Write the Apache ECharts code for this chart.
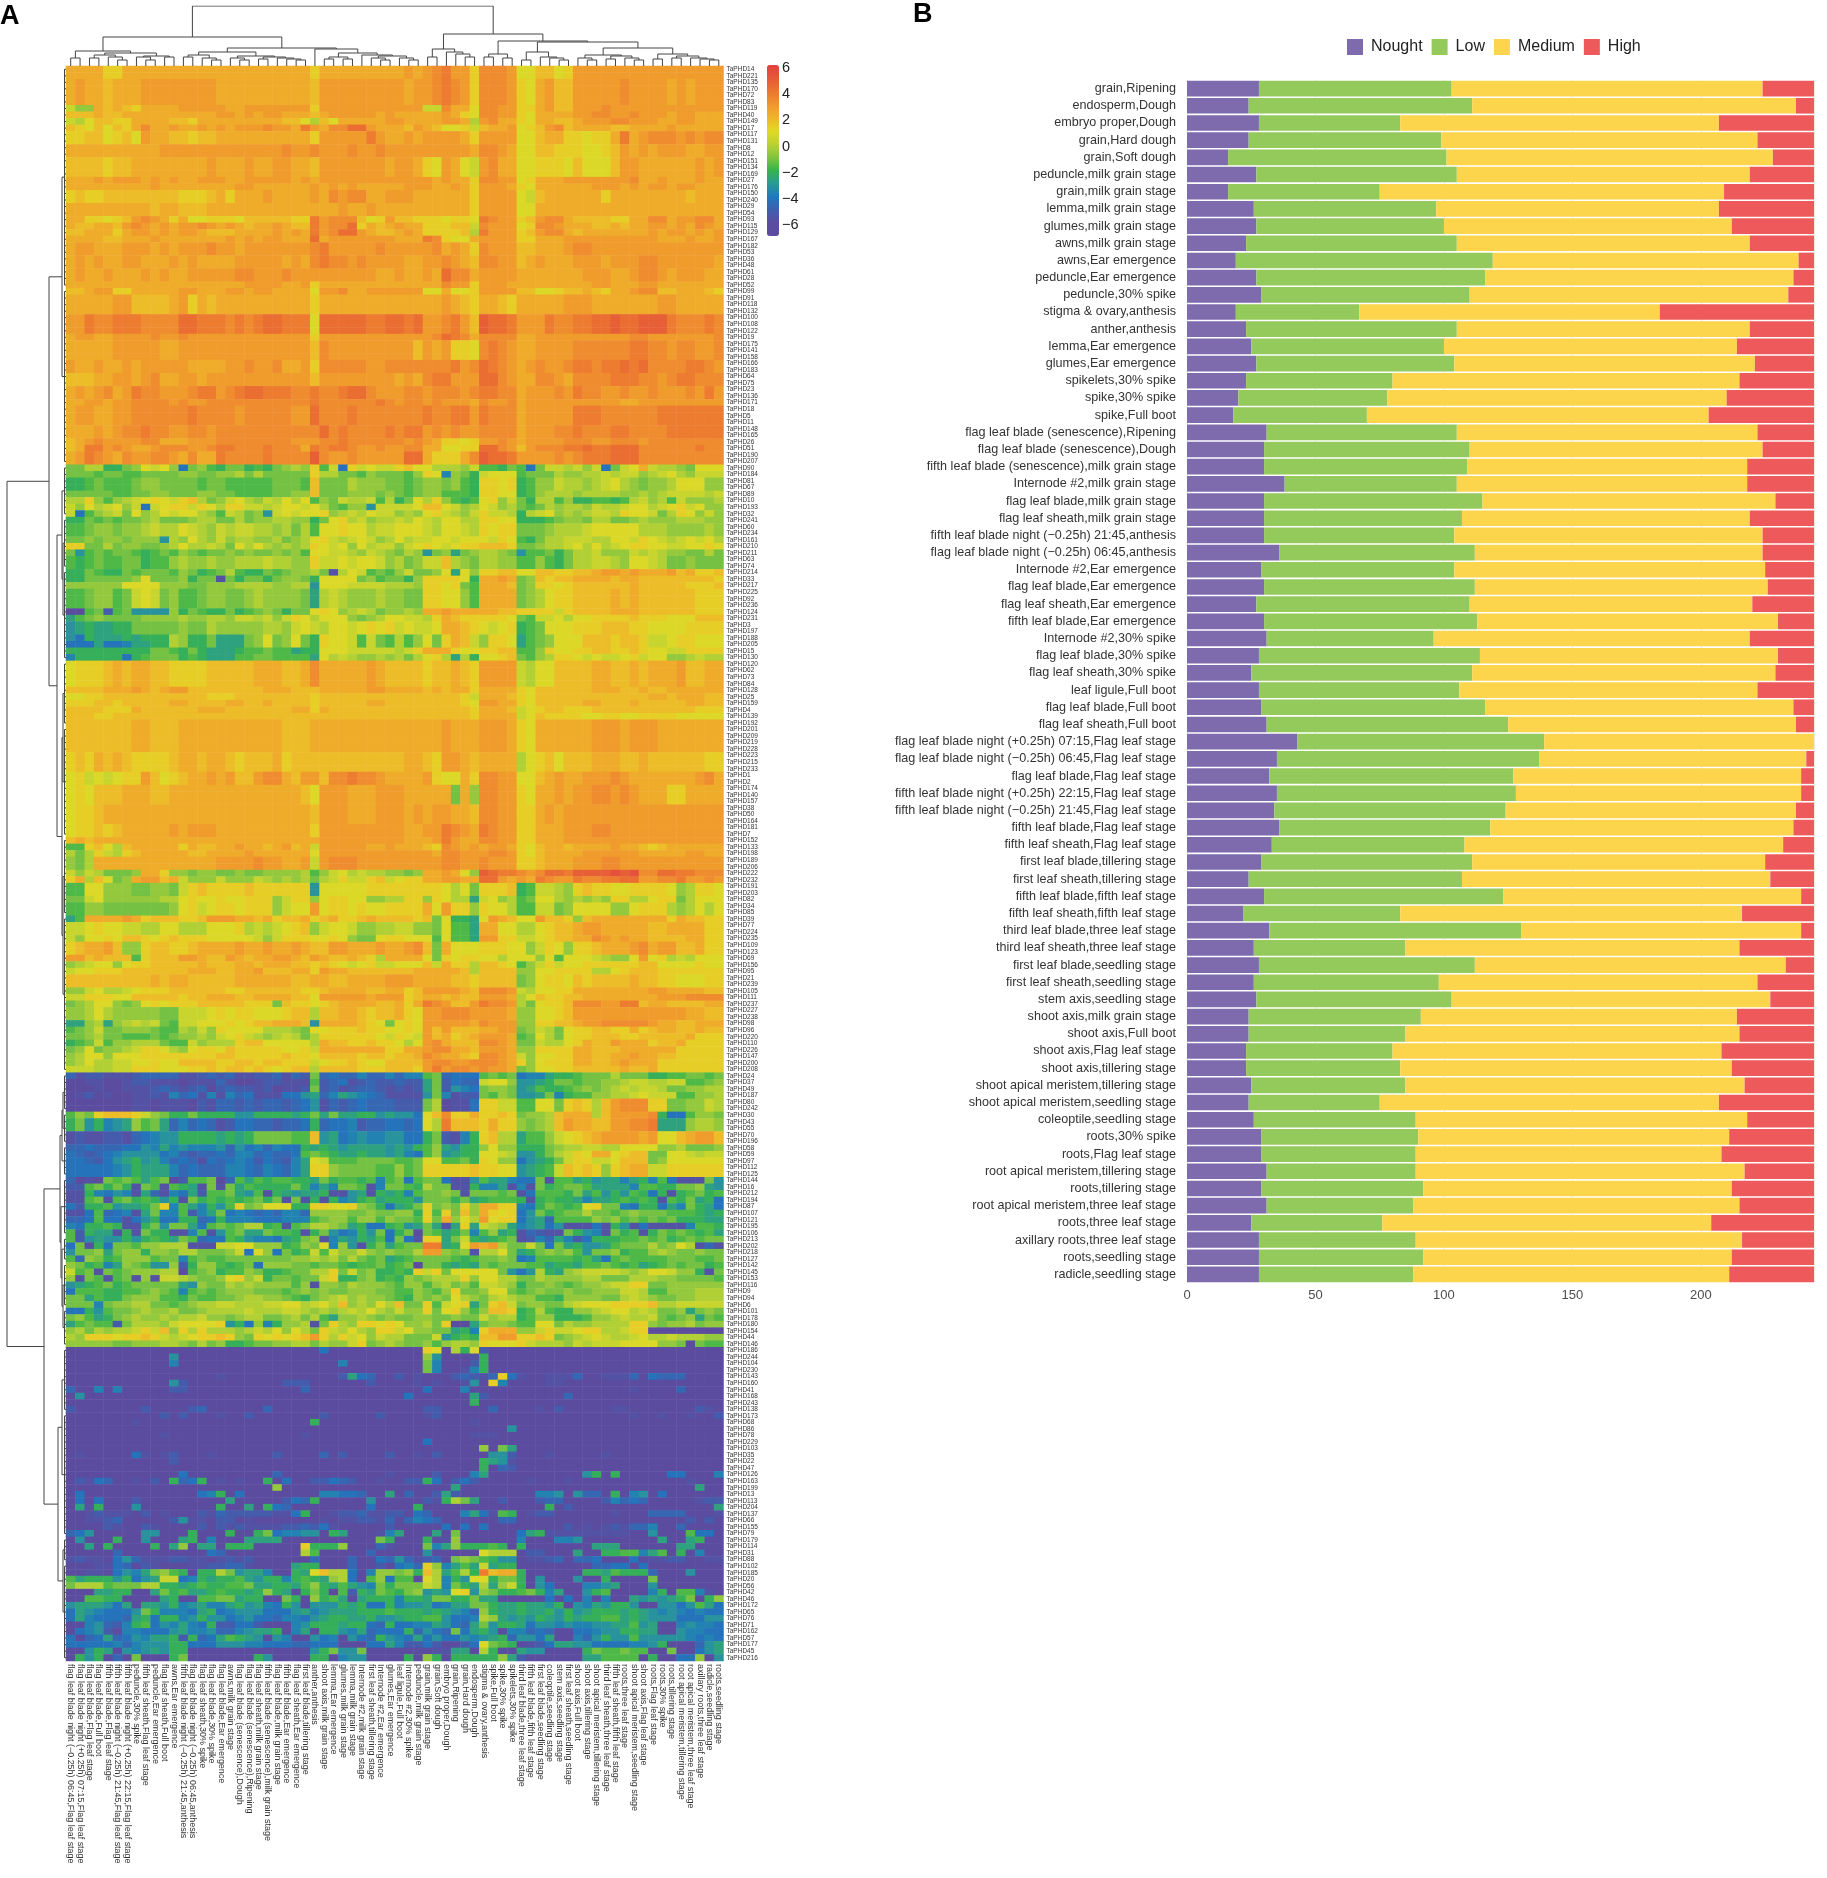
<!DOCTYPE html>
<html>
<head>
<meta charset="utf-8">
<title>TaPHD expression</title>
<script src="https://cdn.jsdelivr.net/npm/echarts@6/dist/echarts.min.js"></script>
<style>
html,body{margin:0;padding:0;background:#fff}
#main{width:1827px;height:1878px}
</style>
</head>
<body>
<div id="main"></div>
<script>
// panel B, top to bottom
const barCategories = ['grain,Ripening','endosperm,Dough','embryo proper,Dough','grain,Hard dough','grain,Soft dough','peduncle,milk grain stage','grain,milk grain stage','lemma,milk grain stage','glumes,milk grain stage','awns,milk grain stage','awns,Ear emergence','peduncle,Ear emergence','peduncle,30% spike','stigma & ovary,anthesis','anther,anthesis','lemma,Ear emergence','glumes,Ear emergence','spikelets,30% spike','spike,30% spike','spike,Full boot','flag leaf blade (senescence),Ripening','flag leaf blade (senescence),Dough','fifth leaf blade (senescence),milk grain stage','Internode #2,milk grain stage','flag leaf blade,milk grain stage','flag leaf sheath,milk grain stage','fifth leaf blade night (−0.25h) 21:45,anthesis','flag leaf blade night (−0.25h) 06:45,anthesis','Internode #2,Ear emergence','flag leaf blade,Ear emergence','flag leaf sheath,Ear emergence','fifth leaf blade,Ear emergence','Internode #2,30% spike','flag leaf blade,30% spike','flag leaf sheath,30% spike','leaf ligule,Full boot','flag leaf blade,Full boot','flag leaf sheath,Full boot','flag leaf blade night (+0.25h) 07:15,Flag leaf stage','flag leaf blade night (−0.25h) 06:45,Flag leaf stage','flag leaf blade,Flag leaf stage','fifth leaf blade night (+0.25h) 22:15,Flag leaf stage','fifth leaf blade night (−0.25h) 21:45,Flag leaf stage','fifth leaf blade,Flag leaf stage','fifth leaf sheath,Flag leaf stage','first leaf blade,tillering stage','first leaf sheath,tillering stage','fifth leaf blade,fifth leaf stage','fifth leaf sheath,fifth leaf stage','third leaf blade,three leaf stage','third leaf sheath,three leaf stage','first leaf blade,seedling stage','first leaf sheath,seedling stage','stem axis,seedling stage','shoot axis,milk grain stage','shoot axis,Full boot','shoot axis,Flag leaf stage','shoot axis,tillering stage','shoot apical meristem,tillering stage','shoot apical meristem,seedling stage','coleoptile,seedling stage','roots,30% spike','roots,Flag leaf stage','root apical meristem,tillering stage','roots,tillering stage','root apical meristem,three leaf stage','roots,three leaf stage','axillary roots,three leaf stage','roots,seedling stage','radicle,seedling stage'];
const nought = [28,24,28,24,16,27,16,26,27,23,19,27,29,19,23,25,27,23,20,18,31,30,30,38,30,30,30,36,29,30,27,30,31,28,25,28,29,31,43,35,32,35,34,36,33,29,24,30,22,32,26,28,26,27,24,24,23,23,25,24,26,29,29,31,29,31,25,28,28,28];
const low = [75,87,55,75,85,78,59,71,73,82,100,89,81,48,82,75,77,57,58,52,74,80,79,67,85,77,74,76,75,82,83,83,65,86,86,78,87,94,96,102,95,93,90,82,75,82,83,93,61,98,59,84,72,76,67,61,57,60,60,51,63,61,60,58,63,57,51,61,64,60];
const medium = [121,126,124,123,127,114,134,110,112,114,119,120,124,117,114,114,117,135,132,133,117,114,109,113,114,112,120,112,121,114,110,117,123,116,118,116,120,112,105,104,112,111,113,118,124,114,120,116,133,109,130,121,124,124,123,130,128,129,132,132,129,121,119,128,120,127,128,127,120,123];
const high = [20,7,37,22,16,25,35,37,32,25,6,8,10,60,25,30,23,29,34,41,22,20,26,26,15,25,20,20,19,18,24,14,25,14,15,22,8,7,0,3,5,5,7,8,12,19,17,5,28,5,29,11,22,17,30,29,36,32,27,37,26,33,36,27,32,29,40,28,32,33];
const stackNames = ['Nought','Low','Medium','High'];

// panel A, columns left to right
const heatColumns = ['flag leaf blade night (−0.25h) 06:45,Flag leaf stage','flag leaf blade night (+0.25h) 07:15,Flag leaf stage','flag leaf blade,Flag leaf stage','flag leaf blade,Full boot','fifth leaf blade,Flag leaf stage','fifth leaf blade night (−0.25h) 21:45,Flag leaf stage','fifth leaf blade night (+0.25h) 22:15,Flag leaf stage','peduncle,30% spike','fifth leaf sheath,Flag leaf stage','peduncle,Ear emergence','flag leaf sheath,Full boot','awns,Ear emergence','fifth leaf blade night (−0.25h) 21:45,anthesis','flag leaf blade night (−0.25h) 06:45,anthesis','flag leaf sheath,30% spike','flag leaf blade,30% spike','flag leaf blade,Ear emergence','awns,milk grain stage','flag leaf blade (senescence),Dough','flag leaf blade (senescence),Ripening','flag leaf sheath,milk grain stage','fifth leaf blade (senescence),milk grain stage','flag leaf blade,milk grain stage','fifth leaf blade,Ear emergence','flag leaf sheath,Ear emergence','first leaf blade,tillering stage','anther,anthesis','shoot axis,milk grain stage','lemma,Ear emergence','glumes,milk grain stage','lemma,milk grain stage','Internode #2,milk grain stage','first leaf sheath,tillering stage','Internode #2,Ear emergence','glumes,Ear emergence','leaf ligule,Full boot','Internode #2,30% spike','peduncle,milk grain stage','grain,milk grain stage','grain,Soft dough','embryo proper,Dough','grain,Ripening','grain,Hard dough','endosperm,Dough','stigma & ovary,anthesis','spike,Full boot','spike,30% spike','spikelets,30% spike','third leaf blade,three leaf stage','fifth leaf blade,fifth leaf stage','first leaf blade,seedling stage','coleoptile,seedling stage','stem axis,seedling stage','first leaf sheath,seedling stage','shoot axis,Full boot','shoot axis,tillering stage','shoot apical meristem,tillering stage','third leaf sheath,three leaf stage','fifth leaf sheath,fifth leaf stage','roots,three leaf stage','shoot apical meristem,seedling stage','shoot axis,Flag leaf stage','roots,Flag leaf stage','roots,30% spike','roots,tillering stage','root apical meristem,tillering stage','root apical meristem,three leaf stage','axillary roots,three leaf stage','radicle,seedling stage','roots,seedling stage'];
const heatRowIds = [14,221,135,170,72,83,119,40,149,17,117,131,8,12,151,134,169,27,176,150,240,29,54,93,115,129,167,182,53,36,48,61,28,52,99,91,118,132,100,108,122,19,175,141,158,166,183,64,75,23,136,171,18,5,11,148,165,26,51,190,207,90,184,81,67,89,10,193,32,241,60,234,161,210,211,63,74,214,33,217,225,92,236,124,231,3,197,188,205,15,130,120,62,73,84,128,25,159,4,139,192,201,209,219,228,223,215,233,1,2,174,140,157,38,50,164,181,7,152,133,198,189,206,222,232,191,203,82,34,85,39,77,224,235,109,123,69,156,95,21,239,105,111,237,227,238,98,96,220,110,226,147,200,208,24,37,49,187,80,242,30,43,55,70,196,58,59,97,112,125,144,16,212,194,87,107,121,195,106,213,202,218,127,142,145,153,116,9,94,6,101,178,180,154,44,146,186,244,104,230,143,160,41,168,243,138,173,68,86,78,229,103,35,22,47,126,163,199,13,113,204,137,66,155,79,179,114,31,88,102,185,20,56,42,46,172,65,76,71,162,57,177,45,216];

// one letter per cell, A=-6, M=0, Y=6 in half steps; [rows sharing the reading, 70 cells]
const levelCodes = 'ABCDEFGHIJKLMNOPQRSTUVWXY';
const heatRows = [
[2,'RRRRPPRRRR RRRRRRRRRR RRRRRRPRRR RRRRRRSRST USSPTTTSOO QQOPSSSSSS SSSSSSSSSS'],
[4,'RSRRQRRRSS SSSSSSRRRR RRRRRRQSSS SSSSSSRSST UTSPTTTSPO RSQQSSSSST SSSSRSRSSS'],
[1,'NLLRQRQPRR RRSSSSSRRS SSSSSSPSSS SSSSSSSSNN TRROTTSSPP RSQQSSSTSS SSSSSSSSSS'],
[1,'QQQRQQRRRR RRRRRRSSRS RSSRRRQRSS SSSRSRRRRR SRPOTTSSPO RRRRSSTTSS TSSSRSSRRR'],
[1,'NMOQQPPRRR RQQPRRRRRR RRRQQOMQOR RRRRSSRRRR SSRMSTRRPO RRQQRSSSTT SSSRRSSRRR'],
[1,'QPOQOQPRTR RSRRSRSRSS STSSRUSRTT VVSRRRQSRQ OOPNQRRSOP QSTQRRRRQQ RRRRSRRRRR'],
[2,'PPQQOPQOSR RQQPQQRRRR RRRRRRPSSS SSUSRRSRSS SSRPSSSSOO QRRPPOPPRU RSTTTSTSTT'],
[2,'RRRRRRRRRR SSSSSSSSSS SSSTSSTSSS TSSTSSSSSS SSSRTTSROO QQPPPOOPQS RSRSSSRRSS'],
[3,'QQQQPQQRRR RRRRRSRRRS RRSSRRQSSS SSSSRSSRPO SRONSTRROO PPPOQOOOQS SRRRRRRSRS'],
[1,'RRRSRSSSRS RSRRSSSRRS SSSSRSRSSS SSSSSSSSSR SRRPTTSSOP RRRSSSSSSS TRRSRRRSRR'],
[1,'RRRRRRRRRS RRRRRRRRSS RRRRRRSRSR SRRRRRSSSR RSRPSSSRPO RRRRRRSSSR SRSSRSSRRR'],
[2,'PQPPQQQQQQ QQPPPQRPRR RSRRRRSRTS TTRRSSSRRR RRRPSSSSON QRRRRRRPRR RRRRRRQRRR'],
[2,'RRRRRRRRRQ RRQQQRRRRR RRRRRRRRRS RRSRRRRRRR RRRPSSSSOO RRRRRRRRRR RRRRRRRRRR'],
[1,'RRPPOPQSTS RPROOPPPOQ QQQQPPUSTT TQOPSQQPPP OPPOUTSSPQ STTRQQQQPP RRTTRSSTTR'],
[1,'RQQRRQSTSR SRSSTSRSRQ RRSRQQUSTT VPRQRSRRPP PQQNTSSSOP TTSRRRQQRQ RRSSRSRTSR'],
[1,'QQRRRPRSSR SRSSRQQQRR RRSRSRUSTV VSRQQRSRPP PPQMUSSSPQ STTRQRRRRR RRSRSSRSRS'],
[1,'RRRRQQRRRS RRRRRRRSRS RSSRRRVRSS SSSSSRRRUT POORSSSSPP RRRSSSSSSS SSSRRRSRRS'],
[2,'RSSRRRSSSR SRSSSTSSRS SSSSSSTUSS SSSTSSSSST RSRPTSSSQQ RRRSTTSSSS SSSSSSSSSS'],
[2,'RSRSRRSSRR RSRSRRRRSS SSSRSRTUTT STSSSSRRSS TSRQTTSSQR SRRRSSSRSS STTSSSSSSR'],
[2,'RSRRSRRRSR SRRSSSSSTT SSSTSSSSSS SSSRRSRRSR VTTRSSSSRR RRRRRSSSRR STTSRSSSRR'],
[1,'RRRRRRRRRR RRRRRRRRRS SSSRRSPRRR RRRRRRRRRR TSSPSSSRRR RRRRRRSSRR RSSRRRRRRR'],
[1,'QQRSSPPRRR RRSSRRRSSR SSRRRROSST RRSSSSSSOO ROOPSSSSQQ OOPQQRQPRR STTQQRRRQP'],
[3,'RRRRRSSQQQ QRSPRQRRRR RRRRRRPRRR RRRRRRRRRR SRQPRRQPRR RRRSSSRRRR RRRSSRRRRR'],
[3,'SSUTTUUUTT TTVVUUUTUT UVVUUUOVVV VVUUVVUVSS TUSQWVVUSS SUTTUUVVWV VWWWUTTTUT'],
[1,'RSSRRSSSST SSTSSSSSSS SSSSSSPSSS SSSSSSSSST VUTRTTTTRR SSSSSSSSSS TTSSSSSSST'],
[3,'RRRRRSSSSS RRSSSSSSSS SSSSSSQTSS SSSSSSSQSR SPPOTUTSRR SSSSTTTTTT UUTTSTTSST'],
[2,'SRRSRRSRSS SSSRRRRSST SSTRRSPTTT TTSSTTTTTT TUSTVUTSRS TSSTUUTUUV UVTTTTUUTS'],
[2,'QQQRRSSRST RRSSRSSSSS SSSSSSQSSS SSSSSRSRTU USSSVVTSRR TTSRTTTTUU UTTSTUUTTT'],
[2,'RSRSTRSUTT SSSTUUSTUV VUUUTTUTTU VVTSSSTTST TTSTUUTTRS SSTSUTTSST SSTSSSTSUS'],
[1,'RRSSRSSTTT TSTSSTTTTT TTTTTTUTTT TTTUTSTTST SSSRTSSTRS SSSSSSSSSR RSSSSSSSSS'],
[3,'RSSRRSSTTT TTTUTTTTST TTTTSSVTTT UTTTTTTTUT TUUSUTTTRS SSSSUUUTTT TTTUUUUUUU'],
[2,'RRRSRSTTUT TSSTTSTTTT TTTTTTTVTU TTTTUTUUST STSSTTTTRS SSTTUTTTUU TTTTUUUUUU'],
[1,'QRSTSSSSTT RRRSSSTTTT TTTTSSSTTU TTTTTTSTSR PPOPSSTSRS SSSTTTSSTT TSTTTTTTTT'],
[1,'QRUUSTSRRS TTTSSTUUTT TUTTTRUTUU TSSTSSTTRR OOPPVVTSQS TTTUUVUUVV VTTTTTTUTT'],
[2,'RSUTSRTSST TSRTRRUTTT TUTTTTWTSS TSSSSSVVRP PPRTWVVUSS SSTSTUUUVV VTTTTTTTTT'],
[1,'KKMMIIKLON OLEKLJIKKI JIKLMLPJNE PNONNPQOOM MMLNJJIKJE KNNMNLNEKN ORNMMLKOOO'],
[1,'KKKJKKJJKK KKLLKKLLMK MKKKKKPMMK KJLKKKJLPO FLKINOOOJK KKMLLMMNMN NLMNOMLNNN'],
[2,'IIJKJJJKLL KKKKJKKJJJ JJKKKJQKKK MLLLKKJKLL KLJIPPOPIJ LLNMMLMNOM LKLLMOOOLL'],
[1,'KKKKKJJKKL LKKKLLKKJJ JJKKLLQKKK LLLKLKJKLL JJJIPPOOIJ LMMMLMMMML LMLMNNNNMN'],
[1,'MMPLJLMNOP ONPQMKLNOM LNMOMOJLKN MMNJMIKOMP LJIJOPLNKI MMJLIIJJIJ MNLMJNLLLM'],
[1,'NLOMNOLNEN OPPNPOMPPN NMNOONOMKJ LLGNNNNOQQ ONLMONLMKJ KMLMMLNMMN OOMNOPNOLL'],
[1,'NEJLMNKOLM ONOOMLJNMK LGNONOOPLM NMONNLMLOP NMLNPNNMIM NOLMLMNNMP OONKMPOLNL'],
[1,'IIKJKJKKLM KKKLMMKKMK LLMMLLIKOP MNLMMNMONM OOMMPPOOII IJKLLKMMKK LMLLLMMMLL'],
[2,'JJKLLKLLMN MMONMLNMNN MMLMKMJOOP OOMNNOOONM OONMPOPPKK KLMMMNOOOO OMMMLLLLML'],
[1,'KKLKLLKLLL GMLOMLNLMM LLMKLMOPNM NONLMOMNNO ONOOONPOJI KMMNNNMMOO NPONMNONOM'],
[1,'PPKKMKLLKK LMOMMNMKOM OMLMLMPONO LOMNNLNOPO NOPPQQQPKK LMMNOMOMNO PPOONNOOPO'],
[1,'KGJKJKKJIJ KJLKJKKLKL KKLKLJOONN MLNMLKMLGK LHKLMMLKGJ JKIKMMNLLL NMNMLLKKMK'],
[2,'JIJKJJKKIJ JLMLLMLLMM MNMMLLPNNO NOONLMKLNN QMLKMMLLJJ LJIKMMNNML OONMKKLKKK'],
[1,'IIKJIIKJKK KJLKIJKMJI IKJKLLMKBM ONJKJLNKKL OHOLPPQQOO QQPPQQRSSR SRRRSQRPPQ'],
[1,'IIKKKKKLOK KKLIKKBKIK KIKLLKIOOO OKLJKKILPP PPOIRRSRKL QPQQRRRRQR RQQQQQQQQP'],
[1,'LLLLLLOOOO LLLKKLLLMM MMLLMMGOOO NNNNMMMLPP OPKJRRRQKL PPOPQQQQQQ RQQQQQPPPQ'],
[3,'JJKLLJKNON KLJJKLLKKL MLLLLKHMNM LLLMLLKKPP OOLJRRRRKL MOPPQQQQRQ RQQQQQQPPP'],
[1,'AAJKCJKGGG GLIKJIIKIJ KLKIKKOPOL MNMKLLMLRR SRRRRRQQPP PPNPQQQQRR RQQQQQQPPP'],
[1,'HJKLKKKKLL LLMLLMMLNN MNLNPOMOOO LKLMOONNMP RQPPPPPOKJ NNOMOOPPPP QPPPOOOQQQ'],
[2,'GHIHHIIKKK KKLKKMLLLL LMMLNONMOO NOPOPNONNO RRQPONOPIJ KOOOPPPQQQ PPOOOOPPPP'],
[1,'GEIHHHIHII IMLIIKHHHK LOKLOKIPOO NJNKJMJLOK PRQNLPPOHJ KLOOOQQQPQ QPNNOPPOOO'],
[1,'EEEHEEFHHI IMLIIKHHHK LOKLOKIPOO NJNKJMJLOK PRQNLPPOHJ KLOOOQQQPQ QPNNOPPOOO'],
[1,'IIIIIIIIIK KJIKIHHHIJ JKJJHIIOOO NNNNNMNPRR RPOOPPQQJJ LPOOPPQQPP QPOONNPPPP'],
[1,'FIIIIIEIJK KKIJIHHHJJ KKJJJJHOMN MLLMLMKMOP MHMIOOPQKJ LMPPONONNO PNOOLLMNMM'],
[4,'OPPPQRQRRQ QPPPPQQQQQ RRRQQRTRRR RRSRQQQQPQ QRQPSSSSNM OOQQQQRRQQ RQRRRSQQRR'],
[1,'QQQQRRRSRQ RSSQQQQQQQ QRRRQQQRRR RRSSRRRRQR QRRPRRRRPO QQQQQQRRRQ QRQQRRRRRR'],
[1,'OOPPQQQQQQ QQQQQPPPQQ QQQQQQPQQQ QQQQQQQQQQ QQPNRRRQPO QQQQQQQQQQ QQRRQRRRQQ'],
[1,'PPPQQPQQQQ QRRQQQQRRQ QRQQQQPQQQ QQRRQQQQQQ QQPOSSRRPO QQQQQRRQQQ RQQQQQRRQQ'],
[1,'QQQQPPPRQQ QQQQRRRQQQ QQQQRRPRQQ QQQQQQQQQQ QQQPRRRQNO PQQPPPQQQQ QQQQQQQPPP'],
[1,'QQQPPQQQQQ QQQQQQQQQQ QQQQQQQQQQ QQQQQQQQQQ QQQPRRRRNO QPPPPOOPPO OPPPPOOOOO'],
[5,'QQQQQQQRRQ QQRRRRRRRR RRRQQQRRRR RRRRRRRRRR SRRRSSSRPO RRRRRRSSSR SSSRRRRRRR'],
[3,'PQPRQRQPPP PQRRQRRQPQ QQRPQQQQQQ QQQQQQRRQP SSRQRRRRMO PQOQQQRRRQ QRQQQQQQPP'],
[2,'OPNONOPPSQ OPQRRSRSQQ STTRQSSQTT UTTSRRRRSP OORPTTSSOO QRSRRSSSTS RRRRRRRSTR'],
[3,'OPOQQQRRRQ QRRRRRRRRR RRRRRQOSSS RRRSSSRRRR RKRLTTSSPO RRSRSSTTST SRRRPPRRRR'],
[3,'OPPQRRRRRR RRRRRRRRRR RRRRRRQSSS RRRSSSRSRS SRRQTTSSPP RSRSSSSSSS SSSSSSSSSS'],
[2,'OPPQPQRRRR RSRSSSRRRR RRRRRRPSSS SSSSSSRRSS UTSRUTSSPP RRRSSSTTSS SSSSSSSSSS'],
[1,'QRQRRRRRRR RRRRRRRRRR RRRRRRRSSS SSSSSSRRRS USRRTTSSPP RRRSSSSSSS SSSSSSSSSS'],
[1,'JJPQOMQRRR RRPRQQRRSR RQRSQRNSSS SSRRSRRRQP TSRSRSSRPO QRRQRRRRSR RQPQRRRRRR'],
[1,'MKMPNMPQRR RRRQQRRRRS RRRRRROSSS SSSSSSSSSR TTSSSTTSPO QRRRRSSSSS SRRRRRSSRR'],
[2,'LKMRRRRRRR RRRRRRSSSS TSSRRSNSTT TSSSSSSSSS TTSSTSSSPP QRRRSSSTTS SSSSSSSSSS'],
[1,'NLNMKKKLRR PLLKLLKKLK KLLLLMJLNO MNMMLLKLRR SROLWVUUTS TVVUWWWWXW XTTVVUUTTT'],
[1,'PRMQOKLRSS QRNLLLNLLL NMLMLMKMNP NNPQNOPPRR SSRRVVSRSR UTSSUTTUUV VSSTTUSSTS'],
[2,'JJOOLLLKKL LKNPQPPPPQ PPPPPPGOOO OOPPPPPPPP OMOKPPPQIJ NNMLPQPPOO PPPPOLMPPO'],
[1,'KKNOLLLLLL MMOPOOPOOP PPLNPPLOPP OOLLMMPPLP OMMHNOLMJK OOMLMLMLPP MMOPPKMOOO'],
[2,'JJLLKKKKKK KLOPNOPPOP PPLNOOSOPP OPOOPPPPRO SPPLPOOMJJ NNKLOOOOLL OPPPMLMOMO'],
[1,'HJRRRRSRPQ QQPPQSSSRR QRPQQRPQRP PQRQQQQPQK OIIHOSRQOO SQQPLQRRRR RRRRPRQQPP'],
[2,'NNOPOONNMM OOMMMOOOPM NMNOPQLNOO NLLMMNNLLK OJJHRROOMM OPQQRSSRRR RRQQRRRRPP'],
[1,'NLOOPOQQPO PQPPPOOOOO NLNPPPOOPO LKKOPPOOOJ OJJHSSPPNN OPQQRRTSRS RRQQQQRRPP'],
[2,'PQRRSQLLPQ QPPQRRRRSR RSRRSRQQSS RRRSRRSTQK ROOOPPPOOL NPOLPPQRRR STRSSQQRPP'],
[1,'SSQRQQQJPQ QQSSRQQSRQ RRSSRQSRQQ RQPMRRRROK POPPOOMOOO LOJOOONMLL OSOPMNMOOO'],
[1,'LMNOOLOPPQ QQQQRQQQRR QRRRQQPQPO NOPNNOOOQN RPPMQQPOJL NPNOOPPPPP PQQOOOOPOO'],
[1,'NOOPPPQQQQ QQQRRRQQRR SQQQRRPSRR QQQQQQQRRR RRQMQQQQLL OOPPPPMMOP QQQPPPPPPP'],
[2,'QQQQQQQQQR QRRQQQQQRR RRRRQQRRQQ RRRRSSSRRR RQQPQQQQKL OPPOQPQQQQ RQQPPOOOPP'],
[1,'LLNOMMNOPP PQQQQQQPPQ QQQQQPPQRR RRQQRRPQSS SSRQTTTSNM OOPPRRRRRR RRSSRRRRQQ'],
[1,'NNPPPOOQQQ QQPQQRRRQQ RRRRQQOSSS SSRSSSPQRR QRQQSSSRMO QPPQQRRRRR RRRSSSTTTT'],
[1,'KLMOOLKLOP OPPPQQQQQP PPKQPPOPQR RRRQQRPRUT SQQSUTTSMK OPPQTTTSSU UQRRQQQQRR'],
[2,'LLMOMLLLLL KKNNNOPOPP OOOPQQMQQR RQPQQRPOSS TTTSSSSRLL OOPQSSSSSS SSSSSSRRQQ'],
[1,'HHLMHLMNMN KJNNOOOPOP QQRRRQGRRR RQPOKOPOSS SSSRTSSSLL PPQQRSSTTT TTSRRQQRRR'],
[1,'JKLNKKLLLK JJMLNLPOOO OMMMLKOOPP PQPPOOPOSQ SQQQRRSSKL NMKOPPQQPP RPQRRQQRQQ'],
[1,'KKLMKKJJJK JKLLMLNOPN MLMNMKMPPP PPPONPONSQ RPQRSSSRJK OMKOPPQQQP PQQQQQRPPP'],
[1,'IJKNJLLMMM KJJNLMMMPQ QOOOOOMRQQ PPQPPOMOST RQQQTTSRKK NMMOPRQQSR RRPQQRPPPP'],
[1,'KLOKLLMNPP OMLOPPOQPP PPPOOPNRRR RRRRPPRRST TRRQSSSRLL PPPPRRQQQR RRRRRPPPPP'],
[1,'LMOOLOOOPP PPPPPPQQPP PPPQPPOQQQ QPQQPQQRTS RRQPTTSRNL OOPPRRQQRR SRRQQPPPPP'],
[1,'LMOMMNNOOP OOQQQQPPQQ PQQPPPNOPP QPOOQQQQST TSSTTTSRPL OPPPRRQQRS RRRPPPPPPP'],
[1,'NNNMMNNPPP OOOPPQPQQP QPOPQQMQQQ QPPPQQQPSU STTSTSSRKL OOPPQQQQQR QQRPPPPPPP'],
[1,'DBCCBBBCDD DDBBCDCDBB CCDBDCKDED DFDDFDFFJK DEEEJKJKEF FHIIJKKKMK KKIIJJKKJK'],
[1,'AABBAABCCB BBABBBDBAA BCCBBBJCDE BCDCCDCCHK CEDDNOOLGG HIKKJKKLLM NNMMNNJJKL'],
[1,'AAABAABBBC DCBCDACDCC BCABBCKCDB CDDCBCBCHK CGFEKLLKGH JIIJKLKLMN MNNMKKLLMM'],
[1,'ABCABAABBC BFDEBFBFDE BBBEEGHDFH GFEDBBBBGK FBCCKJLKGG HKFIJJLLMM NONNNJJLLM'],
[2,'AAAAAAABBA BBBACBDDCD CDDCDEGBDC DEDDDCCCKM ABBEPPNNJJ OOKPQPMQST TTPPKKLLNM'],
[1,'JLKPQQQPNL KIIKIIIIGG IIIIHIKHKH HIIGHGGEOQ TPPRPPQPKL LMQRRRMQSS SSTIEEJLLK'],
[2,'IKGIFGHLJK HDFDEDBCEE DDCDDEIDEE FCDDEEDEOM UQQQPRPPLK LMQSRRQQSS TTUHHHLMML'],
[2,'BCBBCCBDEF GGIIIIHIHI KKKKJJQGHE FGFFGGEEIK CBFIPQMMHJ JLNOPQRSSS SRSOOQRSSQ'],
[1,'DDEDDDEEGF HFGFFFGDGE FDFEEIHIHG HHHHGHGIJL HGIILOLLII IKLMMNNMMO OOOLLMKKKL'],
[1,'EDCDEFGGGG EFDCDDEDFF DEDDEJKJIH HIHHGHFEJL GHIIOONMGG IKMNPORROP QQKKOONMNN'],
[1,'EEDCEGHIGH FDEDBEDEFE CEDCFHONJJ JKKKKJJKOO JJKIPOLLEG HIKNPPNNOQ QQKLOOOOOO'],
[2,'EEEEEFGIHH HFDEDDDFFE DFEDFHPPLK KKKJJLJKPP PPPQPPOOGH IJNQPQPLPQ RRNNPPPPPP'],
[1,'DABAKJKJHJ KACJJKADJH JIJJIIHKIJ JIJFJKEJKK EBBGJHHFEE KBJJHIGHHF HIFJEBBBKG'],
[1,'CCJKIKIBKJ BJIHBKBKHJ IIIIKIFHFK KJBFKKJIMK KBBIFFHBFB KIJKKJHHHH FJJIIKKLHG'],
[1,'BBIFEGFBHD BFEHCJJKHG JBIHGHHIBB GHBIHIFJKK LKBKKKJKBE JJJIKHJGIG JIEIBIJKIJ'],
[1,'BBJKBJKIJI GIBKIJIJIJ KIKBKBIBIF GIJHIIIGKK KIKHIJJJIB IJIIHFHHIJ IJIBJIKHIE'],
[1,'ECIIJGHHIK PFJHFIGJPK LOOOIIPPOO PLKIEHIKPK LKPLRRPPFE IKJIJOPKKF EIIEHFKIHE'],
[1,'BBEJDEFBHK FFJCFHKEFE DEDFFDLLLL KKLKKLLIPJ PKQLRPOPEG KIJKKMKKJK LKKKJJJIHI'],
[1,'DDEJEEBEGI EEIIDEIFFF EEEFFFJKLL JLLJLKKJPK RLOMSOPPEG HDJJJJLKLJ KJKJKIIIHH'],
[1,'FEIIJIBBIK GKKHEJKJKM MIJBJKMMLK HIEEIJGHKH BHPHNMLHFG HEGBBBEBIG BEBBBBFJJI'],
[1,'JCIHHBIBKI IBBFJBGJKH HKJJIBIKGE FIGKEIKAKJ HIKFJLHIBD CBBKIGFBKI JBIKJKJIJH'],
[1,'JCGHGGIGIJ IHKJDEEJIG FFEHIKLBFH GIHJEKEBPP HKNIHIJKBC FDHFCEIIIJ JKJKIJKJKK'],
[1,'EKBIEKKJLL MMMBBBNNOO LLLIJLKOFL GBIKHJKKUU HIOSRSMKKN KEKHIGGHJK KKMKLOMBDB'],
[1,'GKKLHKLLIL LKMMKKKLNE OLEKIJNJNL LNLKLKKMSS LKLBMMOKHI KLKLJGKKLI JJLMLKKLKK'],
[1,'JDLKIJLLLJ KKFJKJJKKK KKKKLLMLMK MKJKHIJKKK KJIJKKLKEF JJJJIJHEJK JJJJKKKJJK'],
[1,'LKIJFHLKJG GLCILLJIJK ELLLKKJKKJ IJJKIJKAKK IHIHKJKKKJ JHIIHJJKJI JHIJKJKKIJ'],
[1,'NJKBKJKLLL MMAJKLIJJL KIIJKKMMPK NKLIIJIPNP KOOOOOKGEG MIHLMNNNNM LMOONLLIBK'],
[1,'LBKJBJKBLB NNMLKKLOPL NIKKJKKNPI IKLIJILKLM MMPLOOMMKK MLLLLMMKKK MMMLLKKKKJ'],
[1,'GHIJKIJKKK KKHGLKKMLM LLLLJLBLLK MLLLKJLLJL MKLJNNMLIK KLKJKLLMNN PPKKLLLLLL'],
[1,'EJJJIIJJKL KJFJKJKLLL KKKJKLKLKK LLLKKJJLKJ LPKKLOOKJK LKKLKKLLLN NMJJLLLMMM'],
[1,'KKHJIIKLLL JJIKJJKKLM MLLKJIKLMN LMLLKJILKL KOMLKMNMLL JJILLLLKKM NMLKKLLMMM'],
[1,'KKKFKLLMMK KJKLMMNNMM MNNOOMNOMQ LMLOMQKKPJ NOPHKPQNKL LKKMNOOOPP PPQMMNNNNN'],
[1,'EEIGJKKLML LMKKLMMMMN MMMNNMLMLM NMOMLNLLPK OPLJLQQPIJ MJIILLMNOO MNMKKLHKLK'],
[1,'KLJHIKLMLL MLMMNLLKLM MKKLMKMJHL LMLKLKKLLK KLKKNLMMIJ LLIIIJLLMN MMNKJKLHKJ'],
[1,'HJKJJCKMMM LNOOOOPGIE LFILLMBKPM LPPOPOLLMK PAAHKLLKJJ OOKMLLMMMM PPLKLLMKLL'],
[1,'LMKMLMMNPN QLPMPMMMLM NMOLOMKPNM OMLPPNOLLK KHIFPRRRLL NPNNOPPMMN PPAAAAAAAA'],
[1,'MLPPPOPPQP NMNOPPQPLK POPOPQSPMP NOLNMMKKKN GIJIQQSSPP QPKLMNONMM NOMMNMMMLL'],
[1,'LLLLLKKLLL MMLKMKLIIJ KKLLMMKMLL NPKLMLKKLJ LMMLPOOOPN MMMLNMNNNO OOOLLKAKJJ'],
[1,'AAAAAAAAAA AAAAAAAAAA AAAAAAAEAA AAAAAAAAPO AMIOCAAAAA AAAAAAAAAA AAAAAAAAAA'],
[1,'AAAAAAAAAA AGAAAAAAAA AAAAAAAAAA AAAAAAAALG AAABIAAAAA AAAAAAAAAA AAAAAAAAAA'],
[1,'AAAAAAAAAA AFAAAAAAAA AAAAAAAAAF AAAAAAAAKF AAACIAAAAA AAAAAAAAAA AAAAAAAAAA'],
[1,'AAAAAAAAAA AAAAAAAAAA AAAAAAAAAA AAAAAAAAKF AABFIAAAAA AAAAAAAAAA AAAAAAAAAA'],
[1,'AAAAAAAAAA AAAAAABAAA AAAAAAAAAC HEDAACABAA ACDCBDPEBA ABBBDAABBB DAEDDDAAAA'],
[1,'AAAAAAAAAA AGCAAAAAAA AAACCCAAAA AACAAAABAB AABGAPFAAA ABBAAAAAAA AAAAAAAAAA'],
[1,'DAAFAFAAAA ACCAAAAAAA AAAAADAAAA AAAAAAAAEA AAFAAAAAAA AAAAAAAAAA BAAAADAAAA'],
[1,'AGAAAAAAAA AAAAAAAAAA AAAAAAAAAA AAAAAAEAAA AAAHCAAAAA AAADAAAAAA AAAAAAAAAA'],
[1,'AAAAAAAAAA AAAAAAAAAA AAAAAAAAAA AAAAAAAAAA AAAIAAAAAA AAAAAAAAAA AAAAAAAAAA'],
[1,'CAAAAAAACA AAACDAAAAA ADAAAAAAAA AAAAAAAACC AAAAADAAAA BACAAAAABB AAAAAAACBA'],
[1,'AAAAAAAAAA CACAAABAAC AAAAAAACAA AAACAAAABC AAAAAAAAAA AAAAAAAAAA BAABAABAAC'],
[1,'AAAAAAABAA AAAAAAAAAA AAAAAAIAAA AAAAAAAAAA AAABAAAAAA AAAAAAAAAA AAAAAAAAAA'],
[1,'AAAAAAAAAA AAAAAAAAAA AAAAAAAAAA AAAAAAAAAA AAAAAAAGAA AAAAAAAAAA AAAAAAAAAA'],
[1,'AAAAAAAAAA BAAAAAAAAA AAAAABAAAA AAAAAAAAAA AAABBBAAAA AAAAAAAAAA AAAAAAAAAA'],
[1,'AAAAAAAAAA AAAAAAAAAA AAAAAAAAAA AAAAAAAAEA AAAAAAAAAA AAAAAAAAAA AAAAAAAAAA'],
[1,'AAAAAAAAAA AAAAAAAAAA AAAAAAAAAA AAAAAAAAAA AAAALAKHAA AAAAAAAAAA AAAAAAAAAA'],
[1,'ABAAAAAEBA BCAAABAAAA AACAAAADAC AAAACAABAC AAAAAGGCAA ABAAAAABAA AAAAAAAAAA'],
[1,'AAAAAAAAAA ACAAAAAAAA AAAAAAAAAA AAAAAAAAAA AAAAIHGBAA AAAAAAAAAA AAAAAAAAAA'],
[1,'AAAAAAAAAA AAAAAAAAAA AAAAAAAAAA AAAAAAAAAA AAAAIADCAA AAAAAAAAAA AAAAAAAAAA'],
[1,'AAAAAAAAAA AAEAAAAAAA AADAAAAAAA AAAABAAAAC AAAFHAAAAA AAAAAGIAIA AAAAEEAAAF'],
[1,'ACBEDAABAC AIDEIABABA AIAEAACCED CAABAACCIE ACECAAAAAB AAABAAAAAA AAAAAABAAA'],
[1,'AAAAAAAAAA AAAAAAAAAA AALAAAAAAA AAAAAAAAAA AHAAAAAAAA AAAAAAAAAA AAAAAAAHAA'],
[1,'AEAAAAAAAA AAAAEFIAEA AAAAAAAFFE EDAAHADAAC HCAAAAAAAA FFGAGDDAIA FGAEAAAAAA'],
[1,'AEAEAAACAA AAAAAAAHAA AAACEDIAAA AAGAAAAACB IMKHAACAAA CDDAAAACFD EDAAAAABCC'],
[1,'AHBIAAAGAA AAAAAAIAAH AIEDAAAAAA AAEAAAAIAA AAAAAAAAAA AIACAAAAAA AAAAAAAAAH'],
[1,'AABCBBBACA BAAACBDCCC CCBBEIAABC CDBBCCAEDA AAFHEBJIAB CCAAAAAABA AADDDDAAAB'],
[1,'AABBCDAAAA ACGBBACCAB AAAAAAABAB BCCBDADFED AABAAADDAA AAAAAAAAAA AAAAAACACA'],
[1,'AAAACBAACB AAAACACBCB BBBCCDCEBA AAAACAAAAA EAEAEAAAAA AAACABABCB DDFAADAAAA'],
[1,'DEGAAAAAGG AAAIAAAIAA IKEFFGGAIH AAABFHAAAH AKAAAAAAEH IBBBBBBBBB AAGAAAJEEA'],
[1,'AGAAAIAAGA AAHIAFAAAH HHHAAAAAAA AAAKIAAAIA BLAAAAAAFA AAFFGAAAAA AAAHAAHIAA'],
[1,'AAHAIAAAAI AHLAHHAIII AAAAAPIIIL AAADBAAAKF HLIIIJIAIA AAAAAAHHHA AAAAAHHAAA'],
[1,'AAAAADAAAA AAAAAEDAAA AAAAAMJAAA AADAAAAAGA AAAAOMMMAC CAAAHAAIIJ JFHJAIAFAA'],
[1,'BCBBAEGDBB BCCBBABCBC AAAAAADAAA DAAEDGDBCD AKLKJIGGAB BCDADDEAAA EABBCCAABB'],
[1,'AAABBEDACB AAABBCCDDB AAAAHIIAAA DAACAEFDPL FHJHNHIIAA AAAAAADDEE AEAAAAAAAA'],
[1,'AABBAEGFHK LJIAIIMKGH HFAAIHOQMM EAFLLKLIQM HJMIUQRRIA AAAAAIIHJI IIDAAAGAAA'],
[1,'JHIIIGIEGH NNEFIHIIJH GIIFIJIHLM EAJLEJJAOM FIGOOIKKIA GAAAGAAIAA AAKAAAAAAA'],
[1,'KMMMJKKKMM IIHIJIIJJK HHIIHJLIHJ HGFKIKKKNM FKIHMHLNIA GEAAAFFGHA AAGAAAAAAA'],
[1,'AAAHHIIAAH KIJHHIJIIH ILIHAIKIAJ CIHKJIKLGH GOPGLKIIJK IFHAAGIJAA AAFIAJJFBA'],
[1,'AAJJIIAAAA HIAAJJKKHI IAAKIALIJH AHIIIFIIHK KIIKHHAAAA AEAEAFAFAA HGHGHIKAIL'],
[1,'GHHHGEHAHH GIFGHFFHIG HFEIGAGGGI HIEEIFGGHE FHHKKIHHIH HGIAGFHGII GAAGGEGJHE'],
[1,'EHGFEEEGKI FFFEHIEFGG GEEEGHFGHH HIIIJIIIHI HGFDLIHHIH HIGIGHIIIH IHGFGFEFEE'],
[1,'EHFEEEDHIE IIFGIGGEFG EEDFFEGHII HHIGGHIIJJ GEEFMLHGHG IHGIHIIJJH IHGGGEEEGG'],
[1,'AAFGDCFIJE GFHFEICCEE CAAAFGIIIH IIEDIEEFFH GEDHKGIIHE GGFGFFGGHH JGHAAFGFFE'],
[1,'AEFGCAFFEE EGHFFGDDFG HHIAFHAIIG FHDEEEIDGE DKEHIGAFFD EDAAEEFGGI IHHAAGFFEE'],
[1,'EADEHDEGFH HICIDEHJIH GAGFAAGEFA GEDIGFEHEG EEGFGHIDGG EHAAFDGIGG JGGGGGFEFE'],
[1,'EEEEEFDFGG GIIEEEGGGF FEEEDDEEEA AAEEHFCCEC AACEOKJIAB CEHHGGEEEE FFGIAAADGH'],
[1,'AAGIHAGFGH GIIAAAAAAA AAAAAAGIKG GKAAAAAAAB BHHAMIAAHG GAAAAIKJJK JJAAKAAEGH'],
[1,'AIGIADAKAA AIKAAAAAAA IGAAAAIIAF GGAAAAIALI AIIIIILHCA AAAAAHHJJJ JAIAAEELAG']
];

// dendrograms: [merge height, child, child...]; 0 is one leaf, n>0 is a tight group of n leaves
const colTree = [60,
  [29,
    [15,[8,0,0],[13,[11,[8,0,0],[9,0,[6,0,0]]],[10,[9,0,[6,0,0]],[9,0,0]]]],
    [18,
      [14,[11,[9,0,0],[8,0,[6,0,0]]],[10,[8,0,[6,0,0]],[9,[7,0,0],[8,0,[7,0,[6,0,0]]]]]],
      [17,0,[13,[9,[7,0,0],[7,0,0]],[11,0,[10,[8,0,[6,0,0]],[8,0,[6,0,0]]]]]]
    ]
  ],
  [32,
    [17,[9,0,0],[14,0,[12,0,[9,0,0]]]],
    [25,
      [12,[9,0,0],[8,0,0]],
      [24,
        [14,[6,0,0],[9,0,[8,0,[6,0,0]]]],
        [18,
          [11,[8,0,[6,0,0]],[10,[7,0,0],[8,0,[6,0,0]]]],
          [12,[7,0,0],[10,[8,0,0],[8,0,[7,0,[6,0,0]]]]]
        ]
      ]
    ]
  ]
];
const rowTree = [59,
  [17,
    [4,34,27],
    [9,[4,8,[3,8,14]],[4,[3,10,17],[3,[2,12],[2,24]]]]
  ],
  [22,
    [6,[4,[3,6,5],5],[5,9,[4,4,[3,7,6]]]],
    [8,[4,[2,10],[2,19]],[3,[2,4],[2,15]]]
  ]
];

const ramp = ['#5E4B9E','#5B4CA0','#3F5FAE','#1F78BD','#2A9A94','#38B44A','#83C441','#BCD332','#E3D924','#EEB52A','#F0962E','#EC7530','#E65938','#E2403F'];
const colorTicks = [-6,-4,-2,0,2,4,6];
const barColors = ['#7E6BAE','#94C95C','#FDD54D','#EE5A5B'];
const fontName = '"Liberation Sans", Arial, sans-serif';

function buildCells() {
  let cells = [];
  let rowIndex = 0;
  heatRows.forEach(function (block) {
    let letters = block[1].replace(/ /g, '');
    for (let r = 0; r < block[0]; r++) {
      for (let c = 0; c < heatColumns.length; c++) {
        let code = levelCodes.indexOf(letters[c]);
        cells.push([c, rowIndex, -6 + code * 0.5]);
      }
      rowIndex++;
    }
  });
  return cells;
}

// walks a tree, hands out leaf positions in order and collects the bracket polylines
function treeSegments(tree, toPoint) {
  let segments = [];
  let next = 0.5;
  function walk(node) {
    if (typeof node === 'number') {
      if (node <= 1) {
        let at = next;
        next += 1;
        return {pos: at, h: 0};
      }
      let first = next;
      let last = next + node - 1;
      for (let i = 0; i < node; i++) {
        segments.push([toPoint(next, 0), toPoint(next, 1.5)]);
        next += 1;
      }
      segments.push([toPoint(first, 1.5), toPoint(last, 1.5)]);
      return {pos: (first + last) / 2, h: 1.5};
    }
    let kids = node.slice(1).map(walk);
    let a = kids[0];
    let b = kids[kids.length - 1];
    segments.push([toPoint(a.pos, a.h), toPoint(a.pos, node[0]), toPoint(b.pos, node[0]), toPoint(b.pos, b.h)]);
    return {pos: (a.pos + b.pos) / 2, h: node[0]};
  }
  walk(tree);
  return segments.map(function (s) { return {coords: s}; });
}

const hidden = {show: false};
const heatGrid = {left: 66, top: 66, width: 657.5, height: 1595};

const option = {
  animation: false,
  backgroundColor: '#fff',
  textStyle: {fontFamily: fontName},
  title: [
    {text: 'A', left: 0, top: 3, padding: 0, textStyle: {fontSize: 27, fontWeight: 'bold', color: '#000', fontFamily: fontName}},
    {text: 'B', left: 913, top: 1, padding: 0, textStyle: {fontSize: 27, fontWeight: 'bold', color: '#000', fontFamily: fontName}}
  ],
  legend: {
    left: 1347, top: 39, padding: 0, itemGap: 9, itemWidth: 16, itemHeight: 16,
    selectedMode: false, icon: 'rect',
    data: stackNames,
    textStyle: {fontSize: 16, color: '#222', padding: [0, 0, 0, 3]}
  },
  visualMap: {
    type: 'continuous', seriesIndex: 0, min: -6.8, max: 6.2,
    left: 767, top: 65, itemWidth: 12, itemHeight: 171, padding: 0,
    calculable: false, text: null, showLabel: false, realtime: false,
    inRange: {color: ramp}
  },
  grid: [
    heatGrid,
    {left: 1187, top: 80, width: 627, height: 1203},
    {left: 66, top: 6, width: 657.5, height: 60},
    {left: 0, top: 66, width: 66, height: 1595},
    {left: 767, top: 65, width: 12, height: 171}
  ],
  xAxis: [
    {gridIndex: 0, type: 'category', data: heatColumns, position: 'bottom',
      axisLine: hidden, axisTick: hidden, splitLine: hidden,
      axisLabel: {interval: 0, rotate: -90, margin: 3, fontSize: 8.95, color: '#333', hideOverlap: false}},
    {gridIndex: 1, type: 'value', min: 0, max: 244, interval: 50,
      axisLine: hidden, axisTick: hidden,
      splitLine: {lineStyle: {color: '#EBEBEB', width: 1}},
      axisLabel: {margin: 6, fontSize: 13, color: '#4D4D4D', customValues: [0, 50, 100, 150, 200]}},
    {gridIndex: 2, type: 'value', min: 0, max: 70, show: false},
    {gridIndex: 3, type: 'value', min: 0, max: 66, inverse: true, show: false},
    {gridIndex: 4, type: 'value', min: 0, max: 1, show: false}
  ],
  yAxis: [
    {gridIndex: 0, type: 'category', data: heatRowIds.map(function (n) { return 'TaPHD' + n; }), position: 'right', inverse: true,
      axisLine: hidden, axisTick: hidden, splitLine: hidden,
      axisLabel: {interval: 0, margin: 3, fontSize: 6.5, color: '#333', hideOverlap: false}},
    {gridIndex: 1, type: 'category', data: barCategories, inverse: true,
      axisLine: hidden, axisTick: hidden, splitLine: hidden,
      axisLabel: {interval: 0, margin: 11, fontSize: 12.6, color: '#333', hideOverlap: false}},
    {gridIndex: 2, type: 'value', min: 0, max: 60, show: false},
    {gridIndex: 3, type: 'value', min: 0, max: 244, inverse: true, show: false},
    {gridIndex: 4, type: 'value', min: -6.8, max: 6.2, position: 'right',
      axisLine: hidden, axisTick: hidden, splitLine: hidden,
      axisLabel: {margin: 3, align: 'left', fontSize: 14.5, color: '#222', customValues: colorTicks,
        formatter: function (v) { return String(v).replace('-', '−'); }}}
  ],
  series: [
    {type: 'heatmap', xAxisIndex: 0, yAxisIndex: 0, data: buildCells(), progressive: 0, silent: true,
      itemStyle: {borderWidth: 0}, emphasis: {disabled: true}},
    {type: 'lines', coordinateSystem: 'cartesian2d', xAxisIndex: 2, yAxisIndex: 2, polyline: true, silent: true,
      data: treeSegments(colTree, function (pos, h) { return [pos, h]; }),
      lineStyle: {color: '#444', width: 1, opacity: 1}},
    {type: 'lines', coordinateSystem: 'cartesian2d', xAxisIndex: 3, yAxisIndex: 3, polyline: true, silent: true,
      data: treeSegments(rowTree, function (pos, h) { return [h, pos]; }),
      lineStyle: {color: '#444', width: 1, opacity: 1}}
  ]
};

[nought, low, medium, high].forEach(function (values, i) {
  option.series.push({
    name: stackNames[i], type: 'bar', stack: 'total', xAxisIndex: 1, yAxisIndex: 1,
    barCategoryGap: '9%', data: values, silent: true,
    itemStyle: {color: barColors[i]}
  });
});

const myChart = echarts.init(document.getElementById('main'));
myChart.setOption(option);
</script>
</body>
</html>
